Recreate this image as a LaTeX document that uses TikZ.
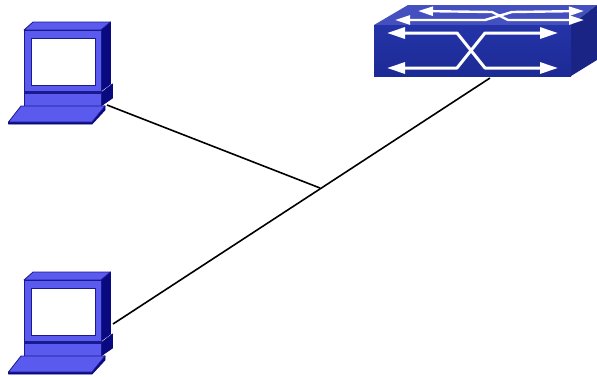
\documentclass[tikz,border=0pt]{standalone}
\usepackage{tikz}
\usetikzlibrary{arrows.meta, positioning}
\definecolor{pcfill}{HTML}{5A5AEE}
\definecolor{pcdark}{HTML}{0A0A80}
\definecolor{pcedge}{HTML}{1A1A90}
\definecolor{swtop}{HTML}{4450C0}
\definecolor{swfrontA}{HTML}{2434A8}
\definecolor{swfrontB}{HTML}{1C2A94}
\definecolor{swside}{HTML}{1A2484}

\begin{document}
\begin{tikzpicture}[x=1pt, y=-1pt,
    % Styles for the laptop parts
    pcface/.style={draw=pcedge, fill=pcfill, line width=0.8pt, line join=round},
    pcside/.style={draw=pcdark, fill=pcdark, line width=0.8pt, line join=round},
    % Styles for the switch arrows
    swlink/.style={draw=white, line width=3pt, line join=round, {Triangle[length=18pt, width=11pt]}-{Triangle[length=18pt, width=11pt]}},
    swlinktop/.style={draw=white, line width=2.4pt, line join=round, {Triangle[length=15pt, width=9pt]}-{Triangle[length=15pt, width=9pt]}},
    wire/.style={draw=black, line width=1.6pt},
    % Pic for a laptop
    pics/laptop/.style={code={
        \draw[pcside] (101,30) -- (110.5,22) -- (110.5,84) -- (101,91) -- cycle;
        \draw[pcface] (24,30) -- (33,22) -- (110.5,22) -- (101,30) -- cycle;
        \fill[pcedge] (24,90) rectangle (101,94);
        \draw[pcface] (24,30) rectangle (101,91);
        \draw[pcedge, fill=white, line width=1pt] (31,38) rectangle (95,85);
        \draw[pcside] (101,93) -- (112.5,84) -- (112.5,98) -- (101,106) -- cycle;
        \draw[pcface] (24,93) rectangle (101,106);
        \draw[pcside] (105,106) -- (105,110) -- (92,124) -- (8.5,124) -- (8.5,122) -- cycle;
        \draw[pcface] (21,106) -- (105,106) -- (92,122) -- (8.5,122) -- cycle;
    }},
    % Pic for the switch
    pics/switchbox/.style={code={
        \fill[swtop] (374,25) -- (408,5) -- (597,5) -- (571,25) -- cycle;
        \fill[swside] (571,25) -- (597,5) -- (597,60) -- (571,76) -- cycle;
        \shade[top color=swfrontA, bottom color=swfrontB] (374,25) rectangle (571,76);
        \draw[swlinktop] (418,11) -- (492,12) -- (508,20) -- (584,20);
        \draw[swlinktop] (395,20) -- (485,20) -- (512,12) -- (584,11);
        \draw[swlink] (387,33) -- (457,33) -- (485,68) -- (558,68);
        \draw[swlink] (387,68) -- (457,68) -- (485,33) -- (558,33);
    }}]

\useasboundingbox (0,0) rectangle (597,376);

% Two laptops and the switch
\pic (pc1) at (0,0) {laptop};
\pic (pc2) at (0,250) {laptop};
\pic (sw) at (0,0) {switchbox};

% Line ends
\coordinate (pc1port) at (107,105);
\coordinate (pc2port) at (113,324);
\coordinate (swport) at (490,78);
\coordinate (join) at (320,188);

% Wires
\draw[wire] (pc2port) -- (swport);
\draw[wire] (pc1port) -- (join);

\end{tikzpicture}
\end{document}
